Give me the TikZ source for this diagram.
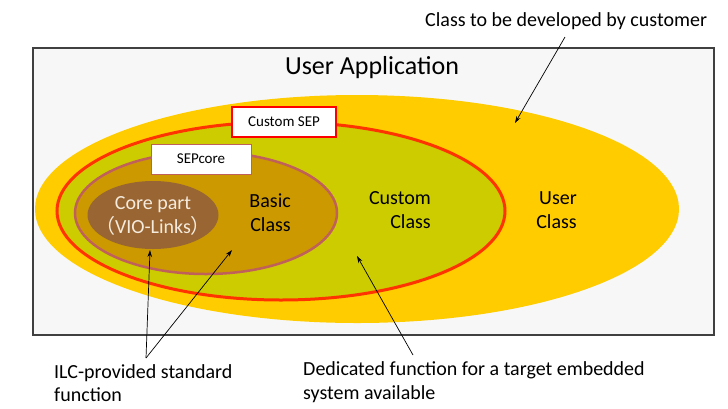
\documentclass[tikz,border=0pt]{standalone}
\usepackage{fontspec}
\setmainfont{Carlito}
\newfontfamily\cjkfont{Noto Sans CJK JP}
\usetikzlibrary{shapes.geometric,arrows.meta}
\definecolor{bgc}{HTML}{F7F7F7}
\definecolor{yel}{HTML}{FFCC00}
\definecolor{oli}{HTML}{CCCC00}
\definecolor{gld}{HTML}{CC9900}
\definecolor{brn}{HTML}{996633}
\definecolor{redl}{HTML}{FF3300}
\definecolor{pnk}{HTML}{C0605A}
\definecolor{coretxt}{HTML}{F5EBDD}
\tikzset{
  blob/.style={ellipse, inner sep=0pt},
  tag/.style={fill=white, minimum width=#1, minimum height=30, inner sep=0pt, font=\fontsize{15}{17}\selectfont},
  lbl/.style={font=\fontsize{20}{24}\selectfont, inner sep=0pt},
  note/.style={font=\fontsize{20}{24}\selectfont, inner sep=0pt, align=left},
  arr/.style={-{Stealth[length=7pt,width=4.5pt]}, line width=0.7pt, black}
}
\begin{document}
\begin{tikzpicture}[x=1pt,y=-1pt]
\useasboundingbox (0,0) rectangle (728,408);
\fill[white] (0,0) rectangle (728,408);
\node[draw=black!75, line width=1.2pt, fill=bgc, minimum width=681, minimum height=287, inner sep=0pt] (app) at (373.5,191.5) {};
\node[font=\fontsize{26}{30}\selectfont, inner sep=0pt] (apptxt) at (372,68) {User Application};
\node[blob, fill=yel, minimum width=644, minimum height=228] (user) at (357,209) {};
\node[blob, fill=oli, draw=redl, line width=3pt, minimum width=448, minimum height=178] (custom) at (281,211) {};
\node[blob, fill=gld, draw=pnk, line width=2.5pt, minimum width=262, minimum height=122] (basic) at (206,213) {};
\node[blob, fill=brn, minimum width=131, minimum height=68] (core) at (153,215) {};
\node[tag=104, draw=red, line width=1.3pt] (csep) at (284,122) {Custom SEP};
\node[tag=100, draw=pnk, line width=1pt] (sepc) at (201,159) {SEPcore};
\node[lbl, align=center, text=coretxt] (coretx) at (153,216) {Core part\\{\cjkfont （}VIO-Links{\cjkfont ）}};
\node[lbl, align=right, anchor=east] (basictx) at (291,213) {Basic\\Class};
\node[lbl, align=right, anchor=east] (customtx) at (431,210) {Custom\\Class};
\node[lbl, align=right, anchor=east] (usertx) at (577,210) {User\\Class};
\node[note, anchor=west] (cust) at (425,21) {Class to be developed by customer};
\node[note, anchor=west, font=\fontsize{20}{23}\selectfont] (ilc) at (54,383) {ILC-provided standard\\function};
\node[note, anchor=west] (ded) at (303,382) {Dedicated function for a target embedded\\system available};
\coordinate (split) at (146,358);
\coordinate (ctop) at (565,37);
\coordinate (dtop) at (413,355);
\coordinate (ptuser) at (515,123);
\coordinate (ptcore) at (150,250);
\coordinate (ptbasic) at (232,250);
\coordinate (ptcustom) at (357,256);
\draw[arr] (ctop) -- (ptuser);
\draw[arr] (split) -- (ptcore);
\draw[arr] (split) -- (ptbasic);
\draw[arr] (dtop) -- (ptcustom);
\end{tikzpicture}
\end{document}
